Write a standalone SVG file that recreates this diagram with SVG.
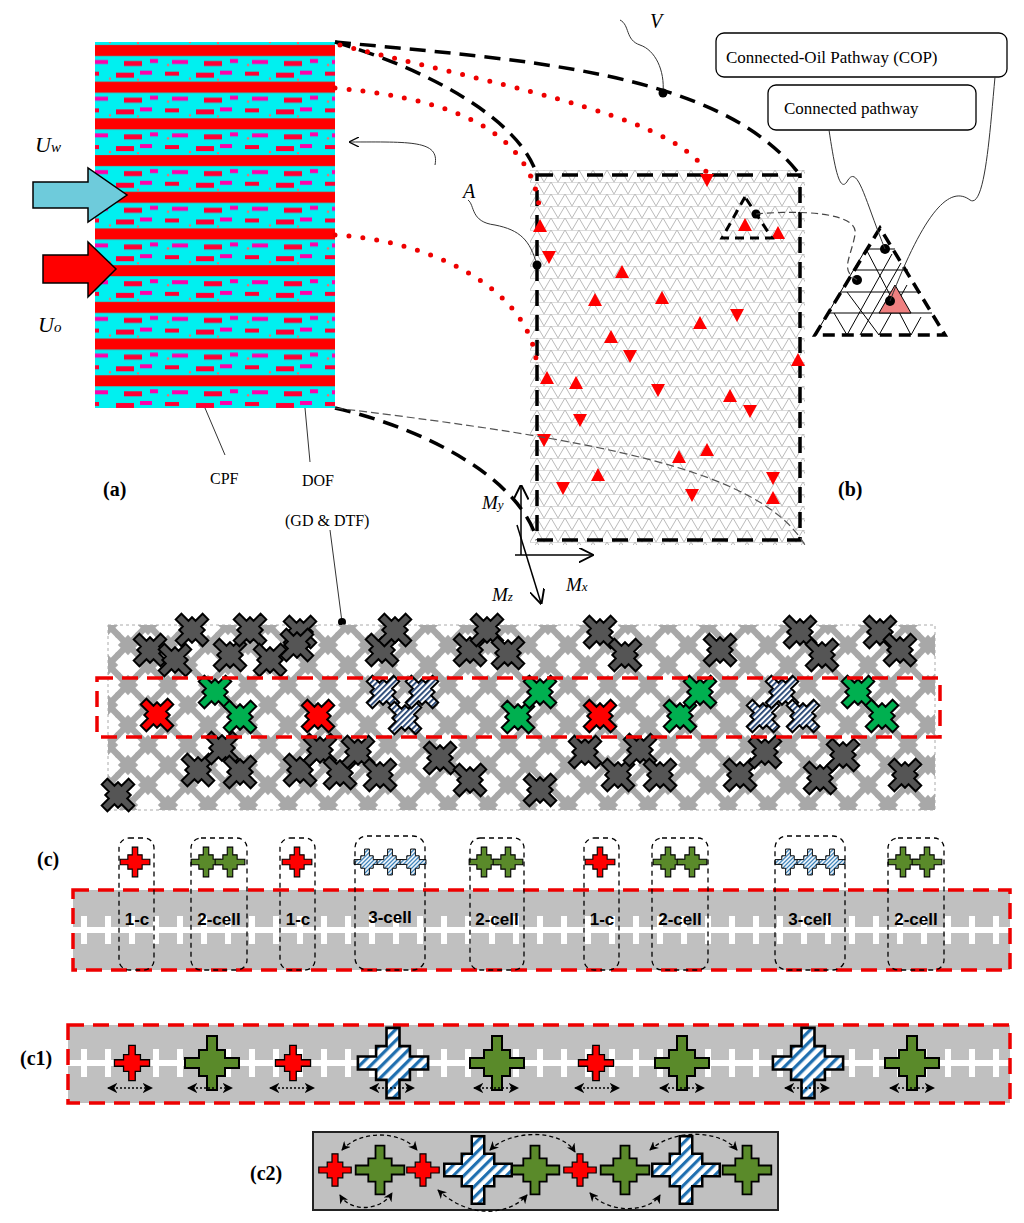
<svg xmlns="http://www.w3.org/2000/svg" xmlns:xlink="http://www.w3.org/1999/xlink" width="1024" height="1223" viewBox="0 0 1024 1223">
<style>
.serif{font-family:"Liberation Serif","DejaVu Serif",serif;fill:#000}
.it{font-style:italic}
.bold{font-weight:bold}
.cl{font-family:"Liberation Sans",Arial,sans-serif;font-weight:bold;font-size:17px;fill:#000}
.bd{fill:none;stroke:#000;stroke-width:3.5;stroke-dasharray:16 9}
.rd{fill:none;stroke:#e00;stroke-width:5;stroke-dasharray:0 14;stroke-linecap:round}
.rdash{fill:none;stroke:#e00;stroke-width:3.5;stroke-dasharray:16 9}
.thin{fill:none;stroke:#333;stroke-width:1}
.box{fill:none;stroke:#000;stroke-width:1.3;stroke-dasharray:5 4}
.red{fill:#f00;stroke:#000;stroke-width:2}
.grn{fill:#5a8a2a;stroke:#000;stroke-width:2}
.blu{fill:url(#stripe);stroke:#000;stroke-width:2}
.dk{fill:#555;stroke:#000;stroke-width:2}
.gx{fill:#00b050;stroke:#000;stroke-width:2}
.rx{fill:#f00;stroke:#000;stroke-width:2}
.bx{fill:url(#vstripe);stroke:#000;stroke-width:2}
.tri{fill:#f00}
.ar{fill:none;stroke:#000;stroke-width:1.3;stroke-dasharray:4 3}
</style>
<defs>
<pattern id="tex" width="80" height="36.7" patternUnits="userSpaceOnUse" y="32">
<rect width="80" height="36.7" fill="#00f0f0"/>
<rect y="13" width="80" height="11" fill="#f00"/>
<rect x="5" y="3" width="14" height="4" fill="#f03"/>
<rect x="36" y="4" width="18" height="5" fill="#f03"/>
<rect x="60" y="2" width="12" height="4" fill="#f0a"/>
<rect x="12" y="28" width="16" height="4" fill="#f0a"/>
<rect x="44" y="29" width="18" height="5" fill="#f03"/>
<rect x="70" y="27" width="8" height="4" fill="#f0a"/>
<circle cx="30" cy="10" r="1.2" fill="#f66"/><circle cx="58" cy="11" r="1.2" fill="#f66"/><circle cx="8" cy="33" r="1.2" fill="#f66"/>
</pattern>
<pattern id="grid" width="14" height="12" patternUnits="userSpaceOnUse" x="530" y="170">
<rect width="14" height="12" fill="#fff"/>
<path d="M0 0H14M0 12L7 0L14 12M-7 12L0 0M14 0L21 12" stroke="#bbb" stroke-width="1" fill="none"/>
</pattern>
<pattern id="stripe" width="6" height="6" patternUnits="userSpaceOnUse" patternTransform="rotate(45)">
<rect width="6" height="6" fill="#fff"/><rect width="2.5" height="6" fill="#1f6fb0"/>
</pattern>
<pattern id="vstripe" width="4" height="4" patternUnits="userSpaceOnUse">
<rect width="4" height="4" fill="#fff"/><rect width="1.8" height="4" fill="#1f3f70"/>
</pattern>
<g id="gc"><path d="M-4,-19H4V-9H9V-4H19V4H9V9H4V19H-4V9H-9V4H-19V-4H-9V-9H-4Z" transform="rotate(45)" fill="#a8a8a8"/></g>
<path id="crs" d="M-5,-27H5V-13H13V-5H27V5H13V13H5V27H-5V13H-13V5H-27V-5H-13V-13H-5Z"/>
<path id="xcr" d="M-4,-19H4V-9H9V-4H19V4H9V9H4V19H-4V9H-9V4H-19V-4H-9V-9H-4Z" transform="rotate(45)"/>
<pattern id="lat" width="40" height="40" patternUnits="userSpaceOnUse" x="108" y="625">
<rect width="40" height="40" fill="#fff"/>
<use href="#gc" transform="scale(0.8)"/>
<use href="#gc" transform="translate(40 0) scale(0.8)"/>
<use href="#gc" transform="translate(0 40) scale(0.8)"/>
<use href="#gc" transform="translate(40 40) scale(0.8)"/>
<use href="#gc" transform="translate(20 20) scale(0.8)"/>
</pattern>
<pattern id="chainC" width="24" height="40" patternUnits="userSpaceOnUse" y="910">
<rect x="0" y="17" width="24" height="6" fill="#fff"/>
<rect x="9" y="6" width="6" height="28" fill="#fff"/>
</pattern>
<pattern id="chainC1" width="24" height="40" patternUnits="userSpaceOnUse" y="1043">
<rect x="0" y="17" width="24" height="6" fill="#fff"/>
<rect x="9" y="6" width="6" height="28" fill="#fff"/>
</pattern>
<path id="tu" d="M0,-7L7,6H-7Z"/>
<path id="td" d="M0,7L7,-6H-7Z"/>
<marker id="ah" viewBox="0 0 10 10" refX="9" refY="5" markerWidth="7" markerHeight="7" orient="auto-start-reverse"><path d="M0,0L10,5L0,10L3,5Z" fill="#000"/></marker>
<marker id="oa" viewBox="0 0 10 10" refX="9" refY="5" markerWidth="10" markerHeight="10" orient="auto"><path d="M0,0L10,5L0,10" fill="none" stroke="#000" stroke-width="1.3"/></marker>
</defs>
<rect width="1024" height="1223" fill="#fff"/>

<g id="panel-a">
<rect x="95" y="42" width="240" height="366" fill="url(#tex)"/>
<path d="M33,182H88V168L127,195L88,222V208H33Z" fill="#6ecbdb" stroke="#000" stroke-width="1.5"/>
<path d="M43,255H88V242L116,269L88,297V283H43Z" fill="#f00" stroke="#000" stroke-width="1.5"/>
<text x="35" y="152" class="serif it" font-size="22">U<tspan font-size="15">w</tspan></text>
<text x="38" y="332" class="serif it" font-size="22">U<tspan font-size="15">o</tspan></text>
<path d="M205,408L225,455" class="thin" stroke="#000"/>
<path d="M305,408L310,462" class="thin" stroke="#000"/>
<text x="210" y="484" class="serif" font-size="16">CPF</text>
<text x="302" y="486" class="serif" font-size="16">DOF</text>
<text x="285" y="526" class="serif" font-size="16">(GD &amp; DTF)</text>
<text x="103" y="496" class="serif bold" font-size="20">(a)</text>
</g>

<g id="panel-b">
<rect x="530" y="170" width="275" height="375" fill="url(#grid)"/>
<rect x="537" y="175" width="263" height="365" class="bd"/>
<g class="tri">
<use href="#td" x="707" y="180"/><use href="#tu" x="540" y="226"/><use href="#td" x="549" y="257"/>
<use href="#tu" x="778" y="233"/><use href="#tu" x="745" y="225"/><use href="#tu" x="622" y="272"/>
<use href="#tu" x="662" y="298"/><use href="#tu" x="595" y="300"/><use href="#tu" x="611" y="337"/>
<use href="#tu" x="700" y="323"/><use href="#td" x="630" y="356"/><use href="#tu" x="798" y="360"/>
<use href="#tu" x="547" y="378"/><use href="#tu" x="576" y="383"/><use href="#td" x="658" y="390"/>
<use href="#tu" x="730" y="396"/><use href="#td" x="750" y="411"/><use href="#td" x="580" y="420"/>
<use href="#td" x="544" y="440"/><use href="#tu" x="707" y="450"/><use href="#tu" x="679" y="457"/>
<use href="#tu" x="598" y="475"/><use href="#td" x="563" y="488"/><use href="#td" x="773" y="478"/>
<use href="#td" x="692" y="495"/><use href="#tu" x="773" y="498"/><use href="#td" x="737" y="315"/>
</g>
<path d="M745,197L722,238H772Z" fill="none" stroke="#000" stroke-width="3" stroke-dasharray="9 6"/>
<circle cx="756" cy="214" r="4.5"/>
<text x="838" y="496" class="serif bold" font-size="20">(b)</text>
</g>

<g id="inset">
<g stroke="#000" stroke-width="1" fill="none">
<path d="M828,313H932M840,292H921M853,270H908M866,249H895"/>
<path d="M847,335L892,254M879,335L907,285M911,335L921,317M834,313L847,335M847,292L879,335M866,249L911,335"/>
<path d="M815,335L866,249M860,335L901,263"/>
</g>
<path d="M879,313L895,285L911,313Z" fill="#f08080" stroke="#000" stroke-width="1"/>
<path d="M880,228L815,335H945Z" fill="none" stroke="#000" stroke-width="3.5" stroke-dasharray="12 7"/>
<circle cx="885" cy="249" r="5"/><circle cx="857" cy="280" r="5"/><circle cx="890" cy="301" r="5"/>
<rect x="716" y="33" width="291" height="44" rx="8" fill="#fff" stroke="#000" stroke-width="1.3"/>
<text x="726" y="63" class="serif" font-size="17">Connected-Oil Pathway (COP)</text>
<rect x="768" y="85" width="208" height="45" rx="8" fill="#fff" stroke="#000" stroke-width="1.3"/>
<text x="784" y="114" class="serif" font-size="17">Connected pathway</text>
<path d="M829,130C835,170 840,195 848,180C858,165 865,200 885,249" class="thin"/>
<path d="M995,77C990,130 985,210 970,200C950,185 925,210 890,301" class="thin"/>
</g>

<g id="axes" stroke="#000" stroke-width="1.5" fill="none">
<path d="M521,555V486" marker-end="url(#oa)"/>
<path d="M515,555H592" marker-end="url(#oa)"/>
<path d="M517,525L541,603" marker-end="url(#oa)"/>
</g>
<text x="482" y="509" class="serif it" font-size="19">M<tspan font-size="13">y</tspan></text>
<text x="566" y="591" class="serif it" font-size="19">M<tspan font-size="13">x</tspan></text>
<text x="492" y="601" class="serif it" font-size="19">M<tspan font-size="13">z</tspan></text>

<g id="connectors">
<path d="M335,42C520,60 720,70 800,175" class="bd"/>
<path d="M335,42C430,70 520,120 537,175" class="bd"/>
<path d="M340,45C520,90 690,120 710,180" class="rd"/>
<path d="M335,88C470,100 535,140 540,215" class="rd"/>
<path d="M335,235C430,240 535,290 537,370" class="rd"/>
<path d="M335,408C430,430 520,480 537,540" class="bd"/>
<path d="M335,408C600,440 760,470 805,545" fill="none" stroke="#555" stroke-width="1.2" stroke-dasharray="8 4"/>
<path d="M663,93C665,70 655,50 640,45C625,40 630,25 620,20" class="thin"/>
<circle cx="663" cy="93" r="4.5"/>
<path d="M537,265C530,240 520,230 495,225C470,222 475,205 468,200" class="thin"/>
<circle cx="537" cy="265" r="4.5"/>
<path d="M435,165C440,140 410,142 350,142" class="thin" marker-end="url(#oa)"/>
<path d="M756,214C800,210 860,212 855,235C850,260 840,270 857,280" fill="none" stroke="#444" stroke-width="1.2" stroke-dasharray="7 4"/>
<path d="M330,530L342,622" class="thin" stroke="#000"/>
<circle cx="342" cy="622" r="4"/>
</g>
<text x="650" y="28" class="serif it" font-size="20">V</text>
<text x="463" y="198" class="serif it" font-size="20">A</text>

<g id="panel-c-grid">
<rect x="108" y="625" width="827" height="185" fill="url(#lat)"/>
<rect x="108" y="625" width="827" height="185" fill="none" stroke="#aaa" stroke-dasharray="3 3"/>
<g class="dk">
<use href="#xcr" x="150" y="650"/><use href="#xcr" x="192" y="630"/><use href="#xcr" x="175" y="660"/><use href="#xcr" x="230" y="655"/><use href="#xcr" x="250" y="630"/><use href="#xcr" x="270" y="660"/><use href="#xcr" x="300" y="632"/>
<use href="#xcr" x="382" y="650"/><use href="#xcr" x="395" y="630"/><use href="#xcr" x="297" y="645"/><use href="#xcr" x="470" y="650"/><use href="#xcr" x="487" y="630"/><use href="#xcr" x="508" y="653"/>
<use href="#xcr" x="600" y="632"/><use href="#xcr" x="625" y="655"/><use href="#xcr" x="720" y="650"/><use href="#xcr" x="800" y="632"/><use href="#xcr" x="822" y="655"/><use href="#xcr" x="880" y="632"/><use href="#xcr" x="900" y="650"/>
<use href="#xcr" x="198" y="770"/><use href="#xcr" x="222" y="748"/><use href="#xcr" x="240" y="772"/><use href="#xcr" x="118" y="795"/>
<use href="#xcr" x="300" y="770"/><use href="#xcr" x="320" y="750"/><use href="#xcr" x="340" y="773"/><use href="#xcr" x="358" y="752"/><use href="#xcr" x="380" y="775"/>
<use href="#xcr" x="440" y="758"/><use href="#xcr" x="470" y="780"/><use href="#xcr" x="585" y="752"/><use href="#xcr" x="618" y="775"/><use href="#xcr" x="640" y="750"/><use href="#xcr" x="660" y="775"/>
<use href="#xcr" x="740" y="775"/><use href="#xcr" x="765" y="752"/><use href="#xcr" x="820" y="778"/><use href="#xcr" x="843" y="755"/><use href="#xcr" x="905" y="775"/><use href="#xcr" x="540" y="790"/>
</g>
<g class="rx"><use href="#xcr" x="157" y="715"/><use href="#xcr" x="318" y="716"/><use href="#xcr" x="600" y="716"/></g>
<g class="gx"><use href="#xcr" x="215" y="692"/><use href="#xcr" x="240" y="717"/><use href="#xcr" x="518" y="717"/><use href="#xcr" x="540" y="692"/><use href="#xcr" x="680" y="716"/><use href="#xcr" x="700" y="692"/><use href="#xcr" x="858" y="692"/><use href="#xcr" x="882" y="716"/></g>
<g class="bx"><use href="#xcr" x="383" y="692"/><use href="#xcr" x="405" y="718"/><use href="#xcr" x="422" y="692"/><use href="#xcr" x="763" y="716"/><use href="#xcr" x="782" y="692"/><use href="#xcr" x="803" y="716"/></g>
<rect x="97" y="678" width="843" height="59" class="rdash"/>
</g>

<g id="panel-c">
<text x="37" y="866" class="serif bold" font-size="20">(c)</text>
<rect x="73" y="890" width="937" height="80" fill="#c0c0c0"/>
<rect x="73" y="910" width="937" height="40" fill="url(#chainC)"/>
<rect x="73" y="890" width="937" height="80" class="rdash"/>
<g class="red"><use href="#crs" transform="translate(135 862) scale(0.55)"/><use href="#crs" transform="translate(297 862) scale(0.55)"/><use href="#crs" transform="translate(600 862) scale(0.55)"/></g>
<g class="grn"><use href="#crs" transform="translate(206 862) scale(0.55)"/><use href="#crs" transform="translate(230 862) scale(0.55)"/><use href="#crs" transform="translate(484 862) scale(0.55)"/><use href="#crs" transform="translate(508 862) scale(0.55)"/><use href="#crs" transform="translate(668 862) scale(0.55)"/><use href="#crs" transform="translate(692 862) scale(0.55)"/><use href="#crs" transform="translate(903 862) scale(0.55)"/><use href="#crs" transform="translate(927 862) scale(0.55)"/></g>
<g class="blu"><use href="#crs" transform="translate(367 862) scale(0.48)"/><use href="#crs" transform="translate(390 862) scale(0.48)"/><use href="#crs" transform="translate(413 862) scale(0.48)"/><use href="#crs" transform="translate(788 862) scale(0.48)"/><use href="#crs" transform="translate(810 862) scale(0.48)"/><use href="#crs" transform="translate(832 862) scale(0.48)"/></g>
<rect x="119" y="838" width="35" height="132" rx="10" class="box"/>
<rect x="191" y="838" width="56" height="132" rx="10" class="box"/>
<rect x="280" y="838" width="35" height="132" rx="10" class="box"/>
<rect x="355" y="836" width="70" height="134" rx="12" class="box"/>
<rect x="470" y="838" width="54" height="132" rx="10" class="box"/>
<rect x="584" y="838" width="35" height="132" rx="10" class="box"/>
<rect x="652" y="838" width="56" height="132" rx="10" class="box"/>
<rect x="775" y="836" width="70" height="134" rx="12" class="box"/>
<rect x="888" y="838" width="56" height="132" rx="10" class="box"/>
<g class="cl" text-anchor="middle">
<text x="137" y="925">1-c</text><text x="219" y="925">2-cell</text><text x="298" y="925">1-c</text><text x="390" y="923">3-cell</text><text x="497" y="925">2-cell</text><text x="602" y="925">1-c</text><text x="680" y="925">2-cell</text><text x="810" y="925">3-cell</text><text x="916" y="925">2-cell</text>
</g>
</g>

<g id="panel-c1">
<text x="20" y="1065" class="serif bold" font-size="20">(c1)</text>
<rect x="68" y="1025" width="942" height="78" fill="#c0c0c0"/>
<rect x="68" y="1043" width="942" height="40" fill="url(#chainC1)"/>
<rect x="68" y="1025" width="942" height="78" class="rdash"/>
<g class="red"><use href="#crs" transform="translate(132 1063) scale(0.65)"/><use href="#crs" transform="translate(293 1063) scale(0.65)"/><use href="#crs" transform="translate(596 1063) scale(0.65)"/></g>
<g class="grn"><use href="#crs" x="212" y="1063"/><use href="#crs" x="497" y="1063"/><use href="#crs" x="682" y="1063"/><use href="#crs" x="912" y="1063"/></g>
<g class="blu"><use href="#crs" transform="translate(393 1063) scale(1.3)"/><use href="#crs" transform="translate(808 1063) scale(1.3)"/></g>
<g fill="none" stroke="#000" stroke-width="1.5" stroke-dasharray="2 2" marker-start="url(#ah)" marker-end="url(#ah)">
<path d="M108,1088H152"/><path d="M188,1088H232"/><path d="M270,1088H314"/><path d="M370,1088H414"/><path d="M474,1088H518"/><path d="M575,1088H619"/><path d="M660,1088H704"/><path d="M785,1088H829"/><path d="M890,1088H934"/>
</g>
</g>

<g id="panel-c2">
<text x="250" y="1180" class="serif bold" font-size="20">(c2)</text>
<rect x="313" y="1132" width="465" height="78" fill="#c0c0c0" stroke="#222" stroke-width="2"/>
<g class="red"><use href="#crs" transform="translate(335 1170) scale(0.6)"/><use href="#crs" transform="translate(423 1170) scale(0.6)"/><use href="#crs" transform="translate(580 1170) scale(0.6)"/></g>
<g class="grn"><use href="#crs" transform="translate(380 1170) scale(0.9)"/><use href="#crs" transform="translate(535 1170) scale(0.9)"/><use href="#crs" transform="translate(625 1170) scale(0.9)"/><use href="#crs" transform="translate(747 1170) scale(0.9)"/></g>
<g class="blu"><use href="#crs" transform="translate(478 1170) scale(1.25)"/><use href="#crs" transform="translate(686 1170) scale(1.25)"/></g>
<g class="ar" marker-start="url(#ah)" marker-end="url(#ah)">
<path d="M342,1150C360,1130 400,1130 417,1150"/>
<path d="M490,1150C510,1130 560,1128 575,1152"/>
<path d="M650,1150C675,1128 720,1130 737,1150"/>
<path d="M340,1195C350,1212 380,1212 392,1193"/>
<path d="M438,1190C470,1220 510,1215 527,1195"/>
<path d="M590,1193C610,1215 650,1212 660,1195"/>
</g>
</g>
</svg>
